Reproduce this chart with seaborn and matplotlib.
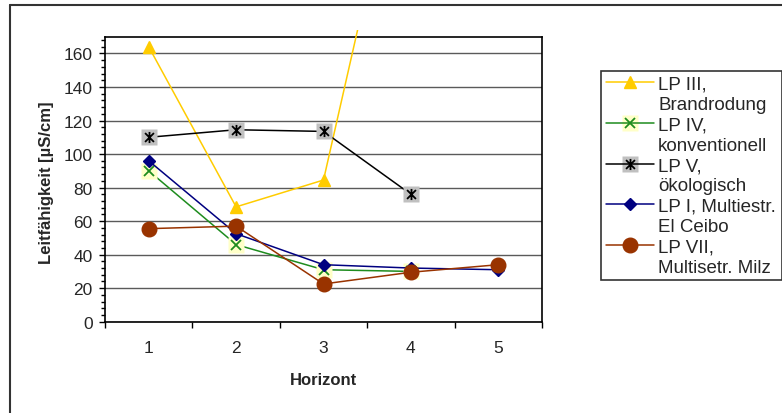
import matplotlib
matplotlib.use("Agg")
import pandas as pd
import matplotlib.pyplot as plt
import seaborn as sns
from matplotlib.path import Path
from matplotlib.lines import Line2D
from matplotlib.patches import Rectangle
from matplotlib.ticker import MultipleLocator

# values (Leitfähigkeit in µS/cm per Horizont)
horizont = [1, 2, 3, 4, 5]
lp3 = [164, 68.5, 84.5, 314]        # LP III, 4th point lies far above the scale
lp4 = [90, 46, 31, 30]
lp5 = [110, 114.5, 113.5, 76]
lp1 = [96, 52.5, 34, 32, 31]
lp7 = [55.5, 57, 22.5, 29.5, 34]

labels = ["LP III,\nBrandrodung", "LP IV,\nkonventionell", "LP V,\nökologisch",
          "LP I, Multiestr.\nEl Ceibo", "LP VII,\nMultisetr. Milz"]

# Excel style star marker (x with vertical bar)
star = Path([(-1, -1), (1, 1), (-1, 1), (1, -1), (0, -1.25), (0, 1.25)],
            [Path.MOVETO, Path.LINETO, Path.MOVETO, Path.LINETO, Path.MOVETO, Path.LINETO])

series = [
    # values, color, marker, size, background square colour
    (lp3, "#FFCC00", "^", 8, None),
    (lp4, "#1E8C1E", "x", 7, "#FFFFC8"),
    (lp5, "#000000", star, 8, "#C0C0C0"),
    (lp1, "#000080", "D", 6, None),
    (lp7, "#993300", "o", 10.5, None),
]

sns.set_style("white")
plt.rcParams["font.family"] = ["Liberation Sans", "DejaVu Sans"]

fig = plt.figure(figsize=(7.82, 4.14), dpi=100)
ax = fig.add_axes([105 / 782, 1 - 322.7 / 414, 437 / 782, 285 / 414])

handles = []
for i, (vals, col, mk, ms, bg) in enumerate(series):
    df = pd.DataFrame({"Horizont": horizont[:len(vals)], "val": vals})
    z = 3 + i
    sns.lineplot(data=df, x="Horizont", y="val", ax=ax, color=col, lw=1.1, zorder=z)
    line = ax.lines[-1]
    if i == 0:
        # Excel lets the line run slightly past the top of the plot area
        clip = Rectangle((0, 0), 1, 1.024, transform=ax.transAxes, visible=False)
        ax.add_patch(clip)
        line.set_clip_path(clip)
    hs = []
    if bg is not None:
        sns.lineplot(data=df, x="Horizont", y="val", ax=ax, linestyle="none", marker="s",
                     markersize=11, markerfacecolor=bg, markeredgecolor="none", zorder=z + 0.1)
        hs.append(Line2D([], [], linestyle="none", marker="s", markersize=11,
                         markerfacecolor=bg, markeredgecolor="none"))
    filled = mk in ("^", "D", "o")
    sns.lineplot(data=df, x="Horizont", y="val", ax=ax, linestyle="none", marker=mk,
                 markersize=ms, markerfacecolor=col if filled else "none",
                 markeredgecolor=col, markeredgewidth=1.0 if filled else 1.3, zorder=z + 0.2)
    hs.append(Line2D([], [], color=col, lw=1.1, marker=mk, markersize=ms,
                     markerfacecolor=col if filled else "none", markeredgecolor=col,
                     markeredgewidth=1.0 if filled else 1.3))
    handles.append(tuple(hs) if len(hs) > 1 else hs[0])

ax.set_xlim(0.5, 5.5)
ax.set_ylim(0, 170)
ax.set_xticks(horizont)
ax.set_xticks([0.5, 1.5, 2.5, 3.5, 4.5, 5.5], minor=True)
ax.tick_params(axis="x", which="major", length=0, pad=13, labelsize=12.5)
ax.tick_params(axis="x", which="minor", length=4, width=1, direction="out", color="black", bottom=True)
ax.yaxis.set_major_locator(MultipleLocator(20))
ax.yaxis.set_minor_locator(MultipleLocator(4))
ax.tick_params(axis="y", which="major", length=4, width=1, direction="out", color="black",
               left=True, pad=5, labelsize=12.5)
ax.tick_params(axis="y", which="minor", length=3, width=1, direction="out", color="black", left=True)
ax.grid(axis="y", which="major", color="#5A5A5A", lw=1)
ax.set_axisbelow(True)
for s in ax.spines.values():
    s.set_color("black")
    s.set_linewidth(1.2)

ax.set_xlabel("Horizont", fontsize=12, fontweight="bold")
ax.set_ylabel("Leitfähigkeit [µS/cm]", fontsize=12, fontweight="bold")
ax.xaxis.set_label_coords(0.5, -0.175)
ax.yaxis.set_label_coords(-0.117, 0.49)

# legend: one row per text line, handle on the first line of each entry
leg_handles, leg_labels = [], []
blank = Line2D([], [], linestyle="none")
for h, lab in zip(handles, labels):
    first, second = lab.split("\n")
    leg_handles += [h, blank]
    leg_labels += [first, second]
leg = fig.legend(leg_handles, leg_labels, loc="upper left", mode="expand",
                 bbox_to_anchor=(601 / 782, 1 - 286 / 414, 181 / 782, 214 / 414),
                 fontsize=13.5, frameon=True, fancybox=False, handlelength=2.6,
                 handletextpad=0.2, labelspacing=0.17, borderpad=0.25, borderaxespad=0)
leg.get_frame().set_edgecolor("black")
leg.get_frame().set_linewidth(1.2)

# outer chart border
fig.add_artist(Line2D([10 / 782, 10 / 782], [0, 1 - 6 / 414], color="#333333", lw=1.5))
fig.add_artist(Line2D([10 / 782, 1], [1 - 6 / 414, 1 - 6 / 414], color="#333333", lw=1.5))

fig.savefig("out.png", dpi=100)
